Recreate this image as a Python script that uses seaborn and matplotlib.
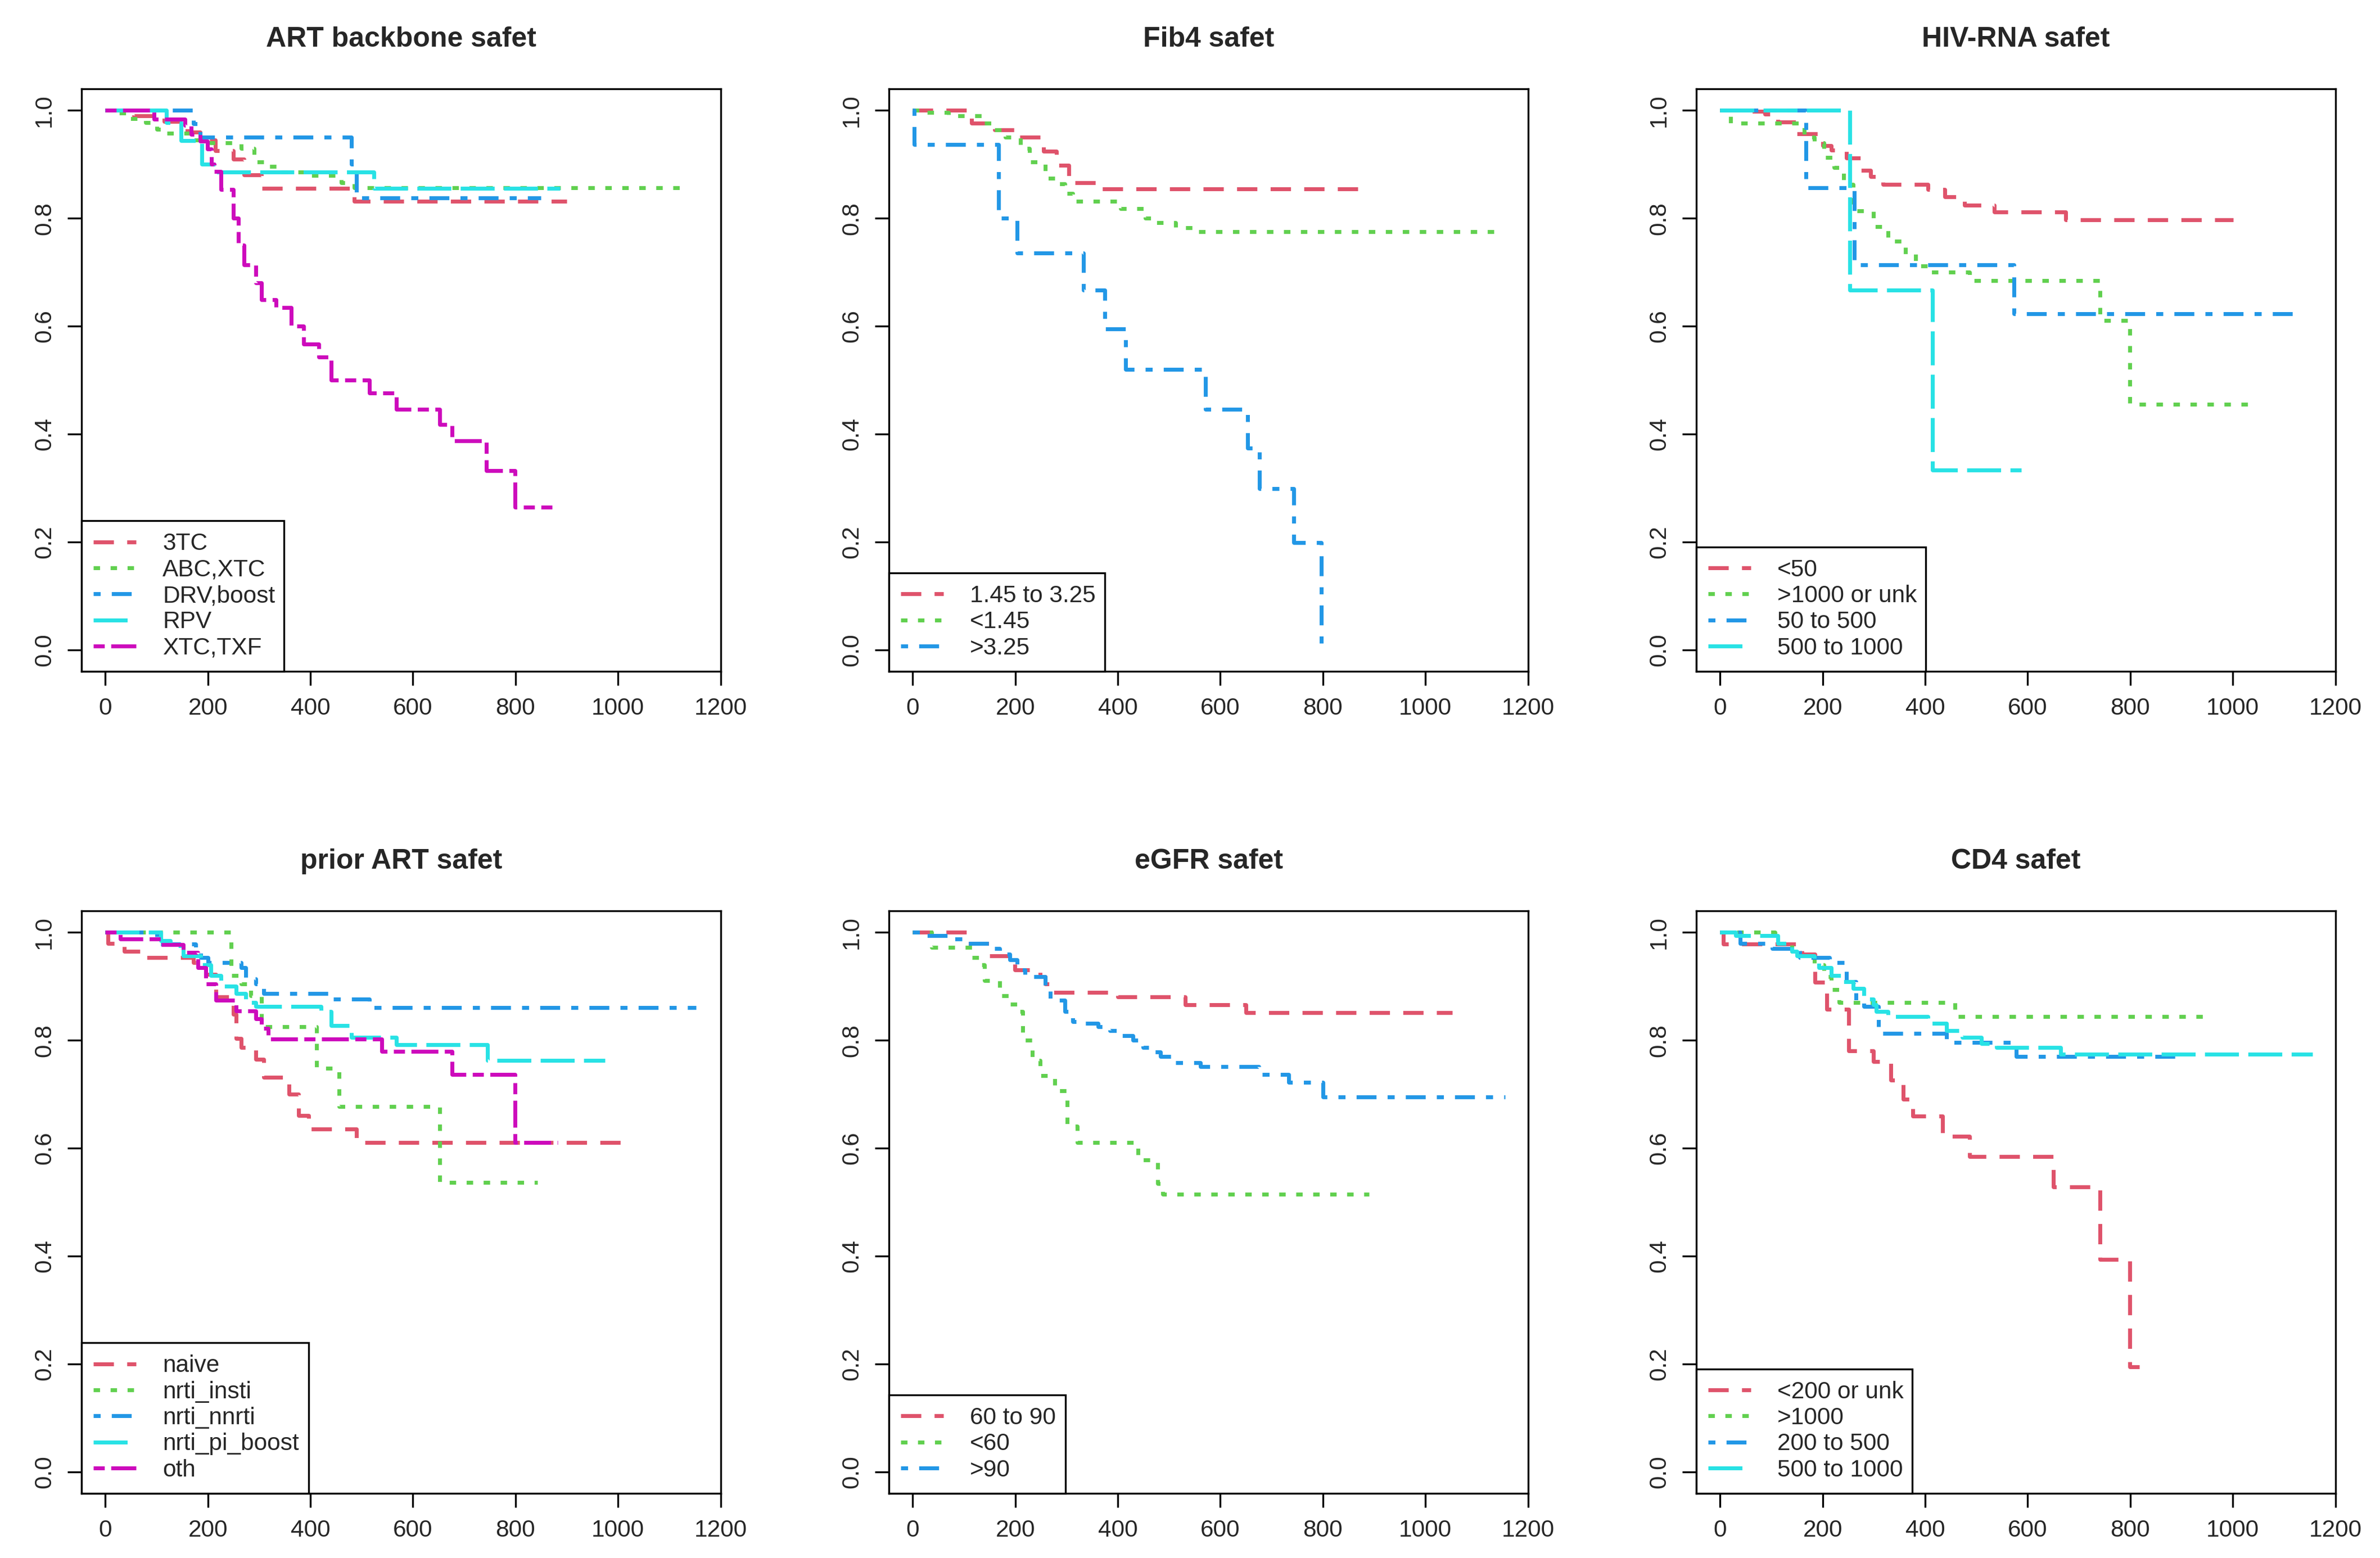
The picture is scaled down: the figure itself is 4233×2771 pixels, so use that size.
import matplotlib
matplotlib.use("Agg")
import matplotlib.pyplot as plt
import seaborn as sns

# ---- ART backbone ----
bb_labels = ["3TC", "ABC,XTC", "DRV,boost", "RPV", "XTC,TXF"]
bb_3tc_t = [0, 55, 115, 160, 185, 215, 250, 270, 305, 485, 900]
bb_3tc_s = [1, 0.99, 0.98, 0.96, 0.945, 0.925, 0.91, 0.88, 0.855, 0.831, 0.831]
bb_abc_t = [0, 20, 45, 78, 100, 120, 165, 205, 265, 290, 320, 340, 400, 460, 485, 1130]
bb_abc_s = [1, 0.995, 0.985, 0.977, 0.965, 0.958, 0.945, 0.94, 0.93, 0.905, 0.896, 0.886, 0.879, 0.866, 0.857, 0.857]
bb_drv_t = [0, 172, 185, 480, 490, 850]
bb_drv_s = [1, 0.975, 0.95, 0.9, 0.838, 0.838]
bb_rpv_t = [0, 119, 148, 188, 215, 524, 887]
bb_rpv_s = [1, 0.977, 0.944, 0.9, 0.886, 0.855, 0.855]
bb_txf_t = [0, 95, 155, 167, 185, 199, 207, 212, 225, 250, 260, 270, 294, 304, 333, 363, 387,
            416, 441, 515, 568, 652, 676, 743, 799, 872]
bb_txf_s = [1, 0.984, 0.972, 0.956, 0.943, 0.928, 0.9, 0.887, 0.853, 0.80, 0.75, 0.714, 0.68, 0.649,
            0.635, 0.60, 0.567, 0.543, 0.50, 0.476, 0.446, 0.418, 0.387, 0.332, 0.264, 0.264]

# ---- Fib4 ----
fib_labels = ["1.45 to 3.25", "<1.45", ">3.25"]
fib_mid_t = [0, 115, 160, 208, 255, 280, 305, 365, 885]
fib_mid_s = [1, 0.976, 0.964, 0.95, 0.924, 0.898, 0.866, 0.854, 0.854]
fib_low_t = [0, 25, 70, 135, 160, 180, 210, 228, 258, 282, 297, 312, 405, 454, 474, 513, 552, 1140]
fib_low_s = [1, 0.996, 0.99, 0.976, 0.964, 0.95, 0.93, 0.905, 0.874, 0.864, 0.846, 0.831, 0.818,
             0.80, 0.792, 0.782, 0.775, 0.775]
fib_high_t = [0, 3, 167, 204, 333, 375, 415, 571, 653, 676, 743, 797]
fib_high_s = [1, 0.937, 0.80, 0.736, 0.667, 0.595, 0.52, 0.446, 0.374, 0.299, 0.199, 0.0]

# ---- HIV-RNA ----
hiv_labels = ["<50", ">1000 or unk", "50 to 500", "500 to 1000"]
hiv_lt50_t = [0, 60, 87, 112, 150, 200, 217, 246, 275, 294, 318, 405, 438, 477, 535, 674, 1001]
hiv_lt50_s = [1, 0.998, 0.993, 0.978, 0.957, 0.935, 0.926, 0.912, 0.889, 0.877, 0.863, 0.853, 0.84,
              0.824, 0.812, 0.797, 0.797]
hiv_gt1000_t = [0, 20, 164, 184, 203, 222, 241, 260, 299, 328, 362, 381, 405, 487, 741, 799, 1049]
hiv_gt1000_s = [1, 0.976, 0.95, 0.94, 0.913, 0.894, 0.863, 0.814, 0.785, 0.758, 0.733, 0.712, 0.70,
                0.684, 0.61, 0.455, 0.455]
hiv_50_500_t = [0, 167, 262, 573, 1136]
hiv_50_500_s = [1, 0.857, 0.714, 0.623, 0.623]
hiv_500_1000_t = [0, 253, 414, 587]
hiv_500_1000_s = [1, 0.667, 0.333, 0.333]

# ---- prior ART ----
prior_labels = ["naive", "nrti_insti", "nrti_nnrti", "nrti_pi_boost", "oth"]
prior_naive_t = [0, 5, 37, 78, 172, 196, 216, 250, 255, 265, 294, 309, 358, 377, 397, 490, 1019]
prior_naive_s = [1, 0.98, 0.965, 0.953, 0.944, 0.922, 0.881, 0.848, 0.803, 0.787, 0.765, 0.731,
                 0.70, 0.661, 0.636, 0.61, 0.61]
prior_insti_t = [0, 245, 265, 284, 304, 412, 456, 652, 843]
prior_insti_s = [1, 0.92, 0.905, 0.883, 0.825, 0.748, 0.677, 0.537, 0.537]
prior_nnrti_t = [0, 100, 176, 186, 200, 265, 274, 294, 309, 441, 515, 1152]
prior_nnrti_s = [1, 0.979, 0.965, 0.953, 0.944, 0.935, 0.914, 0.905, 0.887, 0.876, 0.861, 0.861]
prior_pi_t = [0, 108, 127, 152, 186, 206, 225, 255, 274, 294, 421, 441, 480, 568, 745, 975]
prior_pi_s = [1, 0.985, 0.975, 0.957, 0.94, 0.92, 0.90, 0.887, 0.87, 0.863, 0.853, 0.827, 0.805,
              0.792, 0.763, 0.763]
prior_oth_t = [0, 29, 108, 152, 181, 196, 216, 255, 294, 304, 318, 539, 676, 799, 882]
prior_oth_s = [1, 0.988, 0.977, 0.963, 0.935, 0.905, 0.874, 0.854, 0.84, 0.822, 0.802, 0.779,
               0.737, 0.61, 0.61]

# ---- eGFR ----
egfr_labels = ["60 to 90", "<60", ">90"]
egfr_mid_t = [0, 105, 150, 199, 248, 258, 273, 400, 532, 650, 1052]
egfr_mid_s = [1, 0.98, 0.957, 0.931, 0.918, 0.905, 0.889, 0.881, 0.866, 0.851, 0.851]
egfr_low_t = [0, 37, 116, 135, 140, 170, 189, 209, 214, 233, 248, 277, 301, 321, 439, 478, 488, 890]
egfr_low_s = [1, 0.972, 0.953, 0.94, 0.911, 0.883, 0.867, 0.853, 0.80, 0.763, 0.735, 0.706, 0.641,
              0.61, 0.578, 0.534, 0.515, 0.515]
egfr_high_t = [0, 22, 81, 96, 155, 170, 189, 204, 219, 258, 268, 297, 312, 336, 361, 385, 405, 429,
               449, 464, 483, 507, 561, 675, 733, 800, 1155]
egfr_high_s = [1, 0.994, 0.988, 0.98, 0.97, 0.96, 0.949, 0.931, 0.918, 0.90, 0.874, 0.853, 0.835,
               0.831, 0.825, 0.818, 0.809, 0.80, 0.787, 0.778, 0.77, 0.759, 0.751, 0.737, 0.722,
               0.695, 0.695]

# ---- CD4 ----
cd4_labels = ["<200 or unk", ">1000", "200 to 500", "500 to 1000"]
cd4_lt200_t = [0, 6, 160, 185, 208, 251, 299, 333, 357, 376, 434, 487, 650, 741, 799, 818]
cd4_lt200_s = [1, 0.979, 0.96, 0.908, 0.858, 0.78, 0.761, 0.726, 0.691, 0.659, 0.622, 0.584,
               0.528, 0.394, 0.195, 0.195]
cd4_gt1000_t = [0, 107, 140, 155, 184, 203, 217, 232, 458, 948]
cd4_gt1000_s = [1, 0.98, 0.965, 0.957, 0.94, 0.918, 0.894, 0.87, 0.844, 0.844]
cd4_200_500_t = [0, 39, 102, 155, 213, 246, 265, 280, 309, 442, 577, 900]
cd4_200_500_s = [1, 0.98, 0.97, 0.953, 0.944, 0.909, 0.87, 0.863, 0.813, 0.796, 0.77, 0.77]
cd4_500_1000_t = [0, 30, 112, 140, 150, 184, 193, 217, 237, 260, 280, 299, 304, 328, 405, 442,
                  472, 510, 539, 664, 1155]
cd4_500_1000_s = [1, 0.994, 0.98, 0.965, 0.957, 0.944, 0.935, 0.92, 0.909, 0.896, 0.876, 0.866,
                  0.853, 0.844, 0.831, 0.818, 0.805, 0.794, 0.787, 0.774, 0.774]

titles = ["ART backbone safet", "Fib4 safet", "HIV-RNA safet",
          "prior ART safet", "eGFR safet", "CD4 safet"]
x_ticks = [0, 200, 400, 600, 800, 1000, 1200]
y_ticks = [0.0, 0.2, 0.4, 0.6, 0.8, 1.0]

panels = [
    (bb_labels, [(bb_3tc_t, bb_3tc_s), (bb_abc_t, bb_abc_s), (bb_drv_t, bb_drv_s),
                 (bb_rpv_t, bb_rpv_s), (bb_txf_t, bb_txf_s)]),
    (fib_labels, [(fib_mid_t, fib_mid_s), (fib_low_t, fib_low_s), (fib_high_t, fib_high_s)]),
    (hiv_labels, [(hiv_lt50_t, hiv_lt50_s), (hiv_gt1000_t, hiv_gt1000_s),
                  (hiv_50_500_t, hiv_50_500_s), (hiv_500_1000_t, hiv_500_1000_s)]),
    (prior_labels, [(prior_naive_t, prior_naive_s), (prior_insti_t, prior_insti_s),
                    (prior_nnrti_t, prior_nnrti_s), (prior_pi_t, prior_pi_s),
                    (prior_oth_t, prior_oth_s)]),
    (egfr_labels, [(egfr_mid_t, egfr_mid_s), (egfr_low_t, egfr_low_s), (egfr_high_t, egfr_high_s)]),
    (cd4_labels, [(cd4_lt200_t, cd4_lt200_s), (cd4_gt1000_t, cd4_gt1000_s),
                  (cd4_200_500_t, cd4_200_500_s), (cd4_500_1000_t, cd4_500_1000_s)]),
]
legend_w = [0.317, 0.338, 0.3585, 0.355, 0.2765, 0.338]

sns.set_style("white")
plt.rcParams['font.family'] = ['Liberation Sans', 'DejaVu Sans']

# R palette colours 2..6 and line types 2..6
r_cols = ["#DF536B", "#61D04F", "#2297E6", "#28E2E5", "#CD0BBC"]
r_dash = [(5.2, 3.4), (1.65, 2.7), (1.8, 2.85, 5.1, 2.85), (8.7, 2.4), (2.85, 1.65, 6.9, 1.65)]

W, H = 4233, 2771
fig = plt.figure(figsize=(W / 100, H / 100), dpi=100)
col_left = [145, 1581, 3017]
row_top = [158, 1620]
aw, ah = 1137, 1036
fs = 30.5

for k, (labels, curves) in enumerate(panels):
    r, c = divmod(k, 3)
    ax = fig.add_axes([col_left[c] / W, 1 - (row_top[r] + ah) / H, aw / W, ah / H])
    for i, (lab, (t, s)) in enumerate(zip(labels, curves)):
        sns.lineplot(x=t, y=s, ax=ax, color=r_cols[i], linewidth=5.0, drawstyle='steps-post',
                     estimator=None, sort=False, label=lab)
        ln = ax.lines[-1]
        ln.set_dashes(r_dash[i])
        ln.set_dash_capstyle('butt')
    ax.set_xlim(-46.5, 1200.5)
    ax.set_ylim(-0.04, 1.04)
    ax.set_xticks(x_ticks)
    ax.set_yticks(y_ticks)
    ax.set_yticklabels([f"{v:.1f}" for v in y_ticks])
    ax.set_xlabel("")
    ax.set_ylabel("")
    ax.tick_params(direction='out', length=18, width=2.4, labelsize=fs, pad=15,
                   bottom=True, left=True, top=False, right=False, color='black')
    ax.tick_params(axis='y', labelrotation=90)
    for lab in ax.get_yticklabels():
        lab.set_va('center')
    for sp in ax.spines.values():
        sp.set_visible(True)
        sp.set_color('black')
        sp.set_linewidth(2.4)
    ax.text(0.5, 1 + 88 / ah, titles[k], transform=ax.transAxes, ha='center', va='center',
            fontsize=36, fontweight='bold')
    handles, labs = ax.get_legend_handles_labels()
    leg = ax.legend(handles, labs, loc='lower left', bbox_to_anchor=(0, 0, legend_w[k], 0.2),
                    mode='expand', borderaxespad=0, fancybox=False, framealpha=1,
                    edgecolor='black', fontsize=fs, handlelength=1.8, handletextpad=1.1,
                    borderpad=0.5, labelspacing=0.15)
    leg.get_frame().set_linewidth(2.4)

fig.savefig('out.png', dpi=100)
